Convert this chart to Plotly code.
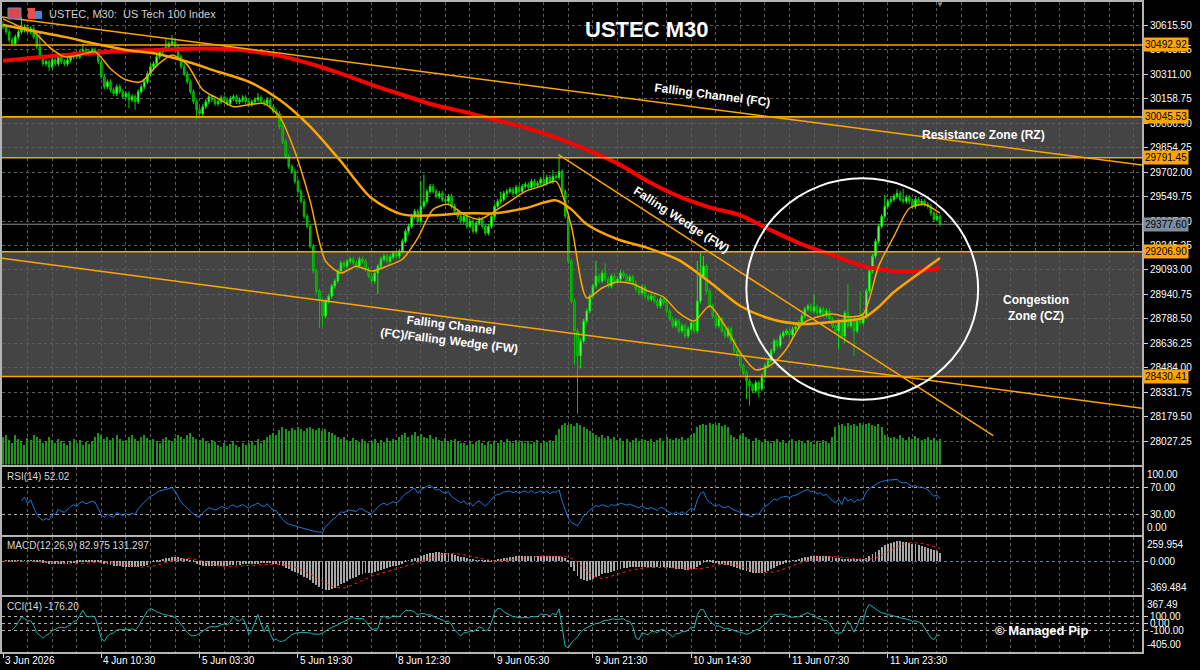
import numpy as np
import pandas as pd
import plotly.graph_objects as go

# ---------------- data ----------------
first_open = 30620.0
closes = [
    30605, 30574, 30524, 30500, 30543, 30574, 30586, 30605, 30574, 30593,
    30543, 30481, 30419, 30376, 30388, 30357, 30400, 30376, 30419, 30388,
    30376, 30400, 30419, 30438, 30419, 30450, 30462, 30438, 30450, 30462,
    30450, 30388, 30295, 30233, 30264, 30214, 30190, 30233, 30202, 30171,
    30190, 30152, 30171, 30140, 30202, 30233, 30264, 30314, 30357, 30376,
    30419, 30450, 30462, 30481, 30500, 30512, 30481, 30419, 30357, 30314,
    30264, 30202, 30140, 30090, 30066, 30109, 30140, 30171, 30152, 30128,
    30140, 30165, 30152, 30128, 30159, 30171, 30140, 30152, 30165, 30140,
    30121, 30140, 30152, 30165, 30140, 30128, 30152, 30109, 30078, 30066,
    29985, 29892, 29799, 29737, 29706, 29644, 29582, 29520, 29427, 29365,
    29241, 29086, 28962, 28900, 28807, 28900, 28931, 28993, 29024, 29086,
    29136, 29117, 29148, 29160, 29136, 29117, 29160, 29148, 29098, 29055,
    29024, 29074, 29117, 29160, 29179, 29148, 29173, 29198, 29179, 29210,
    29272, 29334, 29365, 29427, 29458, 29396, 29489, 29520, 29582, 29613,
    29582, 29551, 29570, 29532, 29520, 29551, 29489, 29458, 29427, 29396,
    29427, 29365, 29396, 29334, 29384, 29408, 29365, 29322, 29365, 29427,
    29489, 29520, 29532, 29570, 29582, 29594, 29570, 29607, 29582, 29613,
    29625, 29607, 29644, 29619, 29632, 29656, 29632, 29669, 29644, 29675,
    29669, 29706, 29582, 29427, 29148, 28900, 28714, 28559, 28652, 28776,
    28838, 28931, 28993, 29055, 29024, 29074, 29036, 28993, 29055, 29024,
    29036, 29074, 29055, 29024, 29049, 29012, 28974, 28950, 28987, 28931,
    28912, 28931, 28900, 28869, 28912, 28888, 28838, 28788, 28745, 28776,
    28714, 28745, 28683, 28726, 28764, 28714, 28900, 29055, 29117, 28962,
    28869, 28807, 28745, 28788, 28714, 28683, 28726, 28652, 28590, 28559,
    28497, 28454, 28404, 28373, 28342, 28392, 28354, 28435, 28497, 28528,
    28590, 28652, 28621, 28683, 28702, 28714, 28689, 28726, 28739, 28764,
    28807, 28850, 28869, 28838, 28863, 28826, 28850, 28813, 28838, 28788,
    28745, 28714, 28776, 28683, 28826, 28745, 28788, 28714, 28776, 28764,
    28807, 28962, 29086, 29179, 29272, 29365, 29427, 29489, 29520, 29532,
    29551, 29570, 29532, 29520, 29545, 29520, 29489, 29532, 29508, 29520,
    29501, 29489, 29446, 29408, 29427, 29377.6,
]
wick_points = 15.0
spike_high = {0: 30640, 6: 30667, 12: 30565, 26: 30500, 53: 30530, 55: 30555,
              83: 30195, 92: 29870, 136: 29650, 137: 29687, 162: 29580,
              176: 29700, 179: 29715, 181: 29799, 193: 29150, 196: 29135,
              226: 29150, 227: 29198, 228: 29180, 264: 28940, 275: 29005,
              279: 28960, 287: 29560, 291: 29594, 293: 29600}
spike_low = {15: 30330, 41: 30100, 43: 30090, 63: 30030, 103: 28733, 104: 28740,
             122: 28943, 186: 28500, 187: 28199, 188: 28480, 242: 28290,
             243: 28249, 246: 28300, 272: 28600, 274: 28640, 277: 28559}
volumes = [
    28, 30, 25, 22, 30, 26, 24, 20, 27, 25, 30, 28, 26, 22, 24, 28, 25, 22, 26, 24,
    22, 20, 24, 26, 22, 25, 20, 23, 21, 24, 28, 32, 30, 26, 28, 25, 27, 30, 26, 24,
    25, 28, 30, 26, 24, 28, 30, 27, 25, 26, 24, 22, 26, 28, 25, 23, 27, 30, 28, 26,
    30, 32, 28, 26, 25, 27, 24, 22, 25, 23, 20, 18, 22, 19, 21, 24, 20, 18, 22, 20,
    22, 24, 20, 26, 22, 25, 28, 30, 32, 30, 35, 38, 36, 34, 37, 35, 38, 36, 34, 37,
    38, 36, 35, 37, 34, 36, 33, 32, 30, 28, 26, 28, 25, 24, 27, 25, 23, 26, 24, 22,
    24, 26, 22, 25, 23, 27, 24, 26, 25, 28, 30, 32, 28, 30, 33, 29, 31, 28, 27, 30,
    26, 28, 25, 24, 27, 23, 25, 26, 24, 22, 22, 20, 24, 21, 23, 25, 22, 20, 23, 21,
    24, 22, 25, 23, 26, 24, 22, 25, 23, 24, 22, 24, 21, 23, 25, 22, 24, 23, 25, 24,
    30, 36, 40, 42, 40, 41, 39, 42, 40, 38, 36, 34, 32, 30, 28, 30, 27, 29, 26, 28,
    25, 27, 24, 26, 23, 25, 27, 24, 26, 25, 24, 26, 23, 25, 27, 24, 28, 26, 25, 27,
    26, 28, 25, 27, 30, 32, 38, 40, 41, 40, 42, 41, 40, 42, 39, 40, 38, 30, 28, 26,
    30, 32, 28, 26, 24, 27, 25, 23, 26, 24, 22, 24, 26, 23, 25, 22, 24, 26, 23, 25,
    24, 22, 25, 23, 21, 24, 22, 25, 23, 22, 28, 38, 40, 41, 39, 42, 40, 41, 39, 42,
    40, 41, 42, 40, 39, 41, 38, 30, 28, 27, 28, 26, 30, 27, 25, 28, 26, 29, 27, 25,
    26, 28, 25, 27, 24, 26,
]
ma_red_bars = [0, 10, 20, 30, 40, 50, 60, 70, 80, 90, 100, 110, 120, 130, 140, 150,
               160, 170, 180, 190, 200, 210, 220, 230, 240, 250, 260, 270, 280, 290, 300, 305]
ma_red = [30394, 30413, 30431, 30444, 30456, 30462, 30469, 30469, 30456, 30425, 30376,
          30314, 30245, 30183, 30121, 30078, 30028, 29979, 29917, 29842, 29756, 29644,
          29551, 29483, 29433, 29340, 29253, 29185, 29117, 29086, 29092, 29105]
ma_slow_bars = [0, 10, 20, 30, 40, 50, 60, 70, 80, 90, 100, 110, 120, 130, 140, 150, 160,
                170, 180, 185, 190, 200, 210, 220, 230, 240, 250, 260, 270, 280, 285, 290, 300, 305]
ma_slow = [30617, 30580, 30543, 30500, 30462, 30438, 30388, 30326, 30264, 30152, 29985,
           29768, 29539, 29439, 29433, 29446, 29446, 29477, 29526, 29470, 29377, 29284,
           29229, 29154, 29018, 28869, 28788, 28757, 28770, 28795, 28863, 28956, 29098, 29167]
ma_fast_bars = list(range(0, 306, 5))
ma_fast = [30655, 30611, 30574, 30481, 30419, 30431, 30450, 30345, 30276, 30264, 30363,
           30431, 30369, 30214, 30159, 30109, 30121, 30128, 30047, 29830, 29520, 29148,
           29074, 29117, 29086, 29117, 29160, 29291, 29470, 29501, 29439, 29408, 29458,
           29520, 29582, 29613, 29644, 29365, 28919, 28981, 29018, 29006, 28962, 28925,
           28826, 28776, 28869, 28745, 28578, 28472, 28503, 28602, 28757, 28801, 28820,
           28801, 28820, 29117, 29303, 29477, 29501, 29446]
levels = [30492.92, 30045.53, 29791.45, 29206.90, 28430.41]
zones = [(29791.45, 30045.53), (28430.41, 29206.90)]
last_price = 29377.60
price_ticks = [30615.50, 30463.25, 30311.00, 30158.75, 30006.50, 29854.25, 29702.00,
               29549.75, 29397.50, 29245.25, 29093.00, 28940.75, 28788.50, 28636.25,
               28484.00, 28331.75, 28179.50, 28027.25]
date_tick_bars = [0, 32, 64, 96, 128, 160, 192, 224, 256, 288]
date_labels = ["3 Jun 2026", "4 Jun 10:30", "5 Jun 03:30", "5 Jun 19:30", "8 Jun 12:30",
               "9 Jun 05:30", "9 Jun 21:30", "10 Jun 14:30", "11 Jun 07:30", "11 Jun 23:30"]
# drawings (bar index, price)
channel_upper = [(-1, 30668), (371, 29745)]
channel_lower = [(-1, 29167), (371, 28232)]
wedge_upper = [(180.8, 29811), (322.3, 28062)]
circle_box = [(241.95, 28286), (317.4, 29663)]

assert len(closes) == len(volumes), (len(closes), len(volumes))
assert len(ma_fast) == len(ma_fast_bars) and len(ma_slow) == len(ma_slow_bars) and len(ma_red) == len(ma_red_bars)

# ---------------- derived series ----------------
n = len(closes)
bars = np.arange(n)
c = pd.Series(closes, dtype=float)
o = c.shift(1)
o.iloc[0] = first_open
h = pd.Series(np.maximum(o, c) + wick_points)
l = pd.Series(np.minimum(o, c) - wick_points)
for k, v in spike_high.items():
    h.iloc[k] = max(h.iloc[k], v)
for k, v in spike_low.items():
    l.iloc[k] = min(l.iloc[k], v)

d = c.diff()
gain = d.clip(lower=0)
loss = (-d).clip(lower=0)
ag = gain.ewm(alpha=1 / 14, adjust=True, min_periods=6).mean()
al = loss.ewm(alpha=1 / 14, adjust=True, min_periods=6).mean()
rsi = 100 - 100 / (1 + ag / al)

ema12 = c.ewm(span=12, adjust=True).mean()
ema26 = c.ewm(span=26, adjust=True).mean()
macd = ema12 - ema26
signal = macd.rolling(9, min_periods=1).mean()

tp = (h + l + c) / 3
sma_tp = tp.rolling(14, min_periods=4).mean()
mad = tp.rolling(14, min_periods=4).apply(lambda a: np.abs(a - a.mean()).mean(), raw=True)
cci = (tp - sma_tp) / (0.015 * mad)

# ---------------- geometry ----------------
W, H = 1200, 670
ML, MR, MT, MB = 1, 58, 0, 18
PW = W - ML - MR
PH = H - MT - MB
BAR_PX, BAR0_PX = 3.075, 2.0
xmin = (ML - BAR0_PX) / BAR_PX
xmax = (ML + PW - BAR0_PX) / BAR_PX


def py(p):  # pixel row -> paper y
    return (PH - p) / PH


def pxp(p):  # pixel column -> paper x
    return (p - ML) / PW


FONT = "Liberation Sans, Arial, sans-serif"
GRID = "#5c5c5c"
BORDER = "#b4b4b4"
ORANGE = "#ffa500"

fig = go.Figure()

# volumes
fig.add_trace(go.Bar(x=bars, y=volumes, xaxis="x", yaxis="y5", width=0.4,
                     marker=dict(color="#1c931c", line=dict(width=0)), hoverinfo="skip"))
# candles
fig.add_trace(go.Candlestick(
    x=bars, open=o, high=h, low=l, close=c, xaxis="x", yaxis="y",
    increasing=dict(line=dict(color="#00f000", width=1), fillcolor="#a8ffa8"),
    decreasing=dict(line=dict(color="#00c800", width=1), fillcolor="#008a00"),
    whiskerwidth=0))
# moving averages
fig.add_trace(go.Scatter(x=ma_red_bars, y=ma_red, mode="lines", xaxis="x", yaxis="y",
                         line=dict(color="#ff0000", width=4, shape="spline", smoothing=0.8)))
fig.add_trace(go.Scatter(x=ma_slow_bars, y=ma_slow, mode="lines", xaxis="x", yaxis="y",
                         line=dict(color=ORANGE, width=2.5, shape="spline", smoothing=0.8)))
fig.add_trace(go.Scatter(x=ma_fast_bars, y=ma_fast, mode="lines", xaxis="x", yaxis="y",
                         line=dict(color=ORANGE, width=1.5, shape="spline", smoothing=0.7)))
# RSI
fig.add_trace(go.Scatter(x=bars, y=rsi, mode="lines", xaxis="x2", yaxis="y2",
                         line=dict(color="#1c78d8", width=1)))
# MACD
fig.add_trace(go.Bar(x=bars, y=macd, xaxis="x3", yaxis="y3", width=0.3,
                     marker=dict(color="#a8a8a8", line=dict(width=0))))
fig.add_trace(go.Scatter(x=bars, y=signal, mode="lines", xaxis="x3", yaxis="y3",
                         line=dict(color="#ff2020", width=1, dash="dot")))
# CCI
fig.add_trace(go.Scatter(x=bars, y=cci, mode="lines", xaxis="x4", yaxis="y4",
                         line=dict(color="#20b2aa", width=1)))

minor_grid = list(range(0, 371, 8))
xcommon = dict(range=[xmin, xmax], showgrid=True, gridcolor=GRID, griddash="dot", gridwidth=1,
               tickvals=date_tick_bars, showticklabels=False, zeroline=False,
               minor=dict(tickvals=minor_grid, showgrid=True, gridcolor=GRID, griddash="dot",
                          gridwidth=1, ticks=""),
               showline=True, linecolor=BORDER, linewidth=2, ticks="", fixedrange=True)
ycommon = dict(side="right", showline=True, mirror=True, linecolor=BORDER, linewidth=2,
               zeroline=False, ticks="outside", ticklen=4, tickcolor="#d0d0d0",
               tickfont=dict(family=FONT, size=10, color="#ffffff"), fixedrange=True)

ymain_lo = 30760.0 - 6.2013 * 464

layout = dict(
    width=W, height=H, margin=dict(l=ML, r=MR, t=MT, b=MB),
    paper_bgcolor="#000000", plot_bgcolor="#000000", showlegend=False,
    font=dict(family=FONT, color="#ffffff"), bargap=0,
    xaxis=dict(domain=[0, 1], anchor="y", mirror=True, rangeslider=dict(visible=False), **xcommon),
    xaxis2=dict(domain=[0, 1], anchor="y2", matches="x", **xcommon),
    xaxis3=dict(domain=[0, 1], anchor="y3", matches="x", **xcommon),
    xaxis4=dict(domain=[0, 1], anchor="y4", matches="x", **{**xcommon, "ticks": "outside",
                                                             "ticklen": 4, "tickcolor": "#d0d0d0"}),
    yaxis=dict(domain=[py(464), 1], anchor="x", range=[ymain_lo, 30760.0], tickvals=price_ticks,
               ticktext=[f"{v:.2f}" for v in price_ticks], showgrid=True, gridcolor=GRID,
               griddash="dot", **ycommon),
    yaxis5=dict(domain=[py(464), 1], anchor="x", overlaying="y", range=[0, 464], visible=False,
                fixedrange=True),
    yaxis2=dict(domain=[py(535), py(466)], anchor="x2", range=[0, 100], tickvals=[30, 70],
                ticktext=["30.00", "70.00"], showgrid=True, gridcolor="#b0b0b0", griddash="dot",
                **ycommon),
    yaxis3=dict(domain=[py(595), py(537)], anchor="x3", range=[-369.484, 259.954], tickvals=[0],
                ticktext=["0.000"], showgrid=True, gridcolor="#6f7f90", griddash="dot", **ycommon),
    yaxis4=dict(domain=[0, py(597)], anchor="x4", range=[-405.0, 367.49],
                tickvals=[100, 0, -100], ticktext=["100.00", "0.00", "-100.00"], showgrid=True,
                gridcolor="#b0b0b0", griddash="dot", **ycommon),
)
fig.update_layout(**layout)

shapes = []
for lo_, hi_ in zones:
    shapes.append(dict(type="rect", xref="x domain", yref="y", x0=0, x1=1, y0=lo_, y1=hi_,
                       fillcolor="#444444", line=dict(width=0), layer="below"))
shapes.append(dict(type="line", xref="x domain", yref="y", x0=0, x1=1, y0=last_price,
                   y1=last_price, line=dict(color="#8c8c8c", width=1), layer="below"))
for lv in levels:
    shapes.append(dict(type="line", xref="x domain", yref="y", x0=0, x1=1, y0=lv, y1=lv,
                       line=dict(color=ORANGE, width=1.6)))
for seg in (channel_upper, channel_lower, wedge_upper):
    shapes.append(dict(type="line", xref="x", yref="y", x0=seg[0][0], y0=seg[0][1],
                       x1=seg[1][0], y1=seg[1][1], line=dict(color=ORANGE, width=1.5)))
shapes.append(dict(type="circle", xref="x", yref="y", x0=circle_box[0][0], y0=circle_box[0][1],
                   x1=circle_box[1][0], y1=circle_box[1][1], line=dict(color="#ffffff", width=2)))
# header icons
shapes.append(dict(type="rect", xref="paper", yref="paper", x0=pxp(7), x1=pxp(20), y0=py(17),
                   y1=py(6), fillcolor="#e04848", line=dict(color="#5b8fd8", width=1)))
shapes.append(dict(type="rect", xref="paper", yref="paper", x0=pxp(27), x1=pxp(34), y0=py(17),
                   y1=py(6), fillcolor="#e85050", line=dict(width=0)))
shapes.append(dict(type="rect", xref="paper", yref="paper", x0=pxp(34), x1=pxp(41), y0=py(17),
                   y1=py(9), fillcolor="#4a86d8", line=dict(width=0)))
fig.update_layout(shapes=shapes)

ann = []
def A(**kw):
    base = dict(showarrow=False, font=dict(family=FONT, size=12, color="#ffffff"))
    base.update(kw)
    ann.append(base)

# price boxes on the right axis
for lv in levels:
    A(xref="paper", x=1, xanchor="left", xshift=1, yref="y", y=lv, yanchor="middle",
      text=f"{lv:.2f}", bgcolor=ORANGE, borderpad=1,
      font=dict(family=FONT, size=10, color="#000000"))
A(xref="paper", x=1, xanchor="left", xshift=1, yref="y", y=last_price, yanchor="middle",
  text=f"{last_price:.2f}", bgcolor="#7d8c9c", borderpad=1,
  font=dict(family=FONT, size=10, color="#000000"))
# sub-window edge labels
edge = [("y2", 100, "100.00", "top"), ("y2", 0, "0.00", "bottom"),
        ("y3", 259.954, "259.954", "top"), ("y3", -369.484, "-369.484", "bottom"),
        ("y4", 367.49, "367.49", "top"), ("y4", -405.0, "-405.00", "bottom")]
for yr, yv, tx, anc in edge:
    A(xref="paper", x=1, xanchor="left", xshift=3, yref=yr, y=yv, yanchor=anc, text=tx,
      font=dict(family=FONT, size=10, color="#ffffff"))
# date labels
for b, tx in zip(date_tick_bars, date_labels):
    A(xref="x4", x=b, xanchor="left", xshift=0, yref="paper", y=py(661), yanchor="middle",
      text=tx, font=dict(family=FONT, size=10, color="#ffffff"))
# indicator captions
A(xref="paper", x=pxp(4), xanchor="left", yref="paper", y=py(476), yanchor="middle",
  text="RSI(14) 52.02", font=dict(family=FONT, size=10, color="#d8d8d8"))
A(xref="paper", x=pxp(4), xanchor="left", yref="paper", y=py(545), yanchor="middle",
  text="MACD(12,26,9) 82.975 131.297", font=dict(family=FONT, size=10, color="#d8d8d8"))
A(xref="paper", x=pxp(4), xanchor="left", yref="paper", y=py(606), yanchor="middle",
  text="CCI(14) -176.20", font=dict(family=FONT, size=10, color="#d8d8d8"))
# header
A(xref="paper", x=pxp(46), xanchor="left", yref="paper", y=py(12), yanchor="middle",
  text="USTEC, M30:  US Tech 100 Index", font=dict(family=FONT, size=11, color="#d0d0d0"))
A(xref="paper", x=pxp(940), xanchor="center", yref="paper", y=py(3), yanchor="middle",
  text="▼", font=dict(family=FONT, size=8, color="#8a8a8a"))
# chart texts
A(xref="x", x=209.4, yref="y", y=30586, text="<b>USTEC M30</b>",
  font=dict(family=FONT, size=22, color="#ffffff"))
A(xref="x", x=231.0, yref="y", y=30180, text="<b>Falling Channel (FC)</b>", textangle=7.4)
A(xref="x", x=319.0, yref="y", y=29935, text="<b>Resistance Zone (RZ)</b>")
A(xref="x", x=221.0, yref="y", y=29405, text="<b>Falling Wedge (FW)</b>", textangle=33)
A(xref="x", x=145.4, yref="y", y=28702, text="<b>Falling Channel<br>(FC)/Falling Wedge (FW)</b>",
  textangle=7)
A(xref="x", x=336.3, yref="y", y=28857, text="<b>Congestion<br>Zone (CZ)</b>")
A(xref="paper", x=pxp(1090), yref="paper", y=py(640), text="<b>© Managed Pip</b>",
  font=dict(family=FONT, size=13, color="#ffffff"))
fig.update_layout(annotations=ann)

fig.write_html("out.html")
